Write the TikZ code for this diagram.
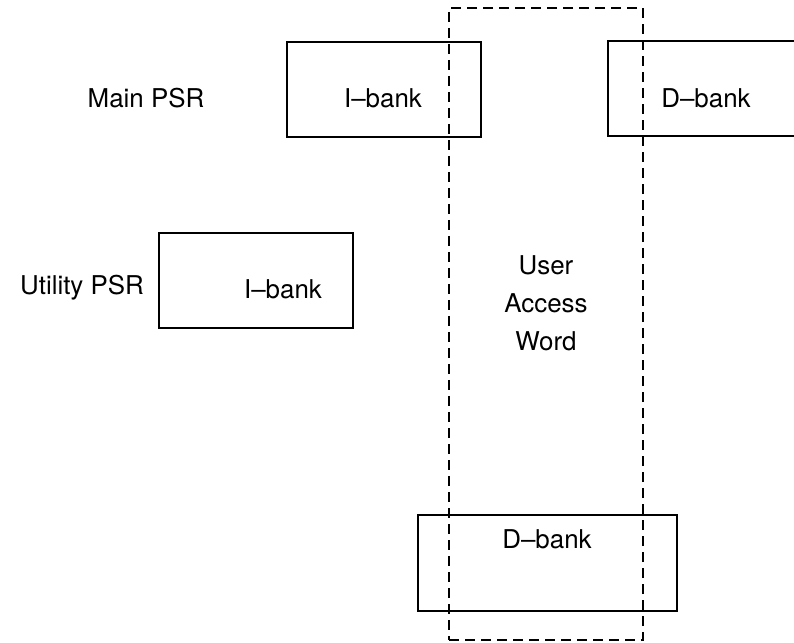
\documentclass[tikz,border=0pt]{standalone}
\usepackage{fontspec}
\setmainfont{TeX Gyre Heros}
\usetikzlibrary{positioning}

\begin{document}
\begin{tikzpicture}[x=1bp, y=-1bp, line width=1.3bp, font=\fontsize{26}{38}\selectfont,
    bankbox/.style={draw, rectangle, inner sep=0pt, minimum width=194bp, minimum height=95bp},
    wordbox/.style={draw, dash pattern=on 10bp off 6bp, inner sep=0pt, minimum width=194bp, minimum height=632bp}]
  \useasboundingbox (0,0) rectangle (794,643);
  \node[wordbox] (uaw) at (546,324) {};
  \node[bankbox] (mainI) at (384,89.5) {};
  \node[bankbox, minimum width=240bp] (mainD) at (728,88.5) {};
  \node[bankbox] (utilI) at (256,280.5) {};
  \node[bankbox, minimum width=259bp, minimum height=96bp] (botD) at (547.5,563) {};
  \node (mainlbl) at (146,98) {Main PSR};
  \node (utillbl) at (82,288) {Utility PSR};
  \node (mainItxt) at (383,98) {I--bank};
  \node (mainDtxt) at (706,98) {D--bank};
  \node (utilItxt) at (283,289) {I--bank};
  \node (botDtxt) at (547,539) {D--bank};
  \node[align=center] (uawtxt) at (546,303) {User\\Access\\Word};
\end{tikzpicture}
\end{document}
